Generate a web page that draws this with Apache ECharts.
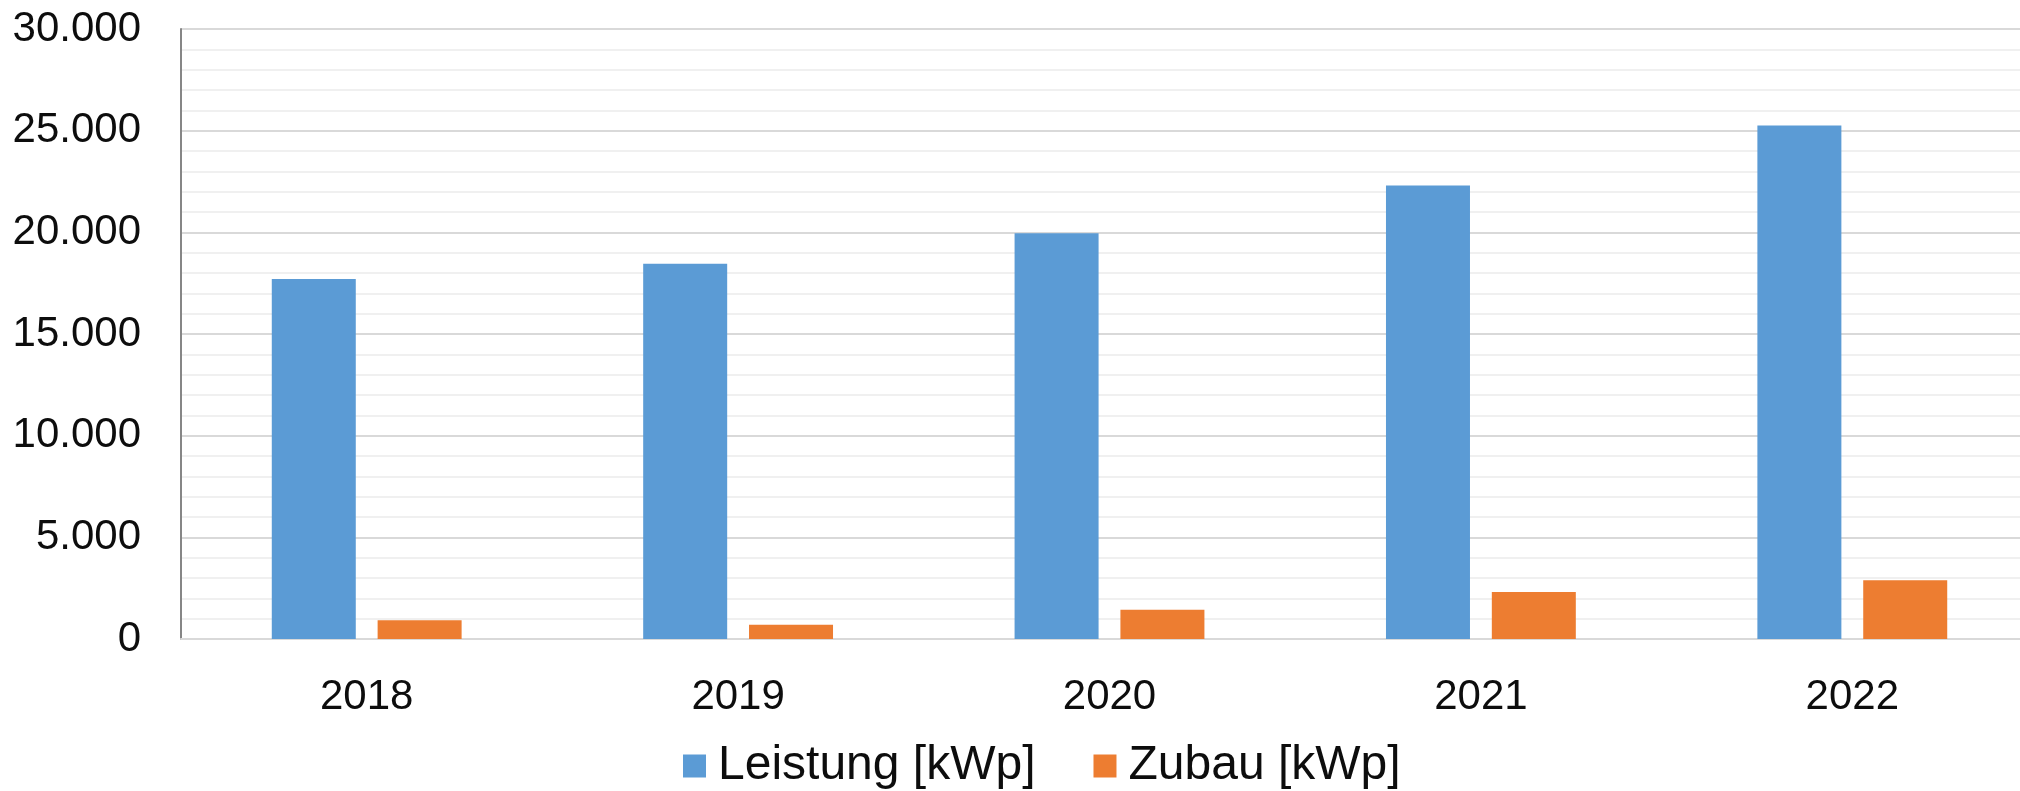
<!DOCTYPE html>
<html>
<head>
<meta charset="utf-8">
<script src="https://cdn.jsdelivr.net/npm/echarts@6/dist/echarts.min.js"></script>
<style>
html,body{margin:0;padding:0;background:#fff;}
#chart{width:2020px;height:791px;}
</style>
</head>
<body>
<div id="chart"></div>
<script>
const categories = ['2018', '2019', '2020', '2021', '2022'];
const leistung = [17700, 18450, 19950, 22300, 25250];
const zubau = [920, 700, 1440, 2310, 2890];
const seriesNames = ['Leistung [kWp]', 'Zubau [kWp]'];

const fmt = v => String(v).replace(/\B(?=(\d{3})+(?!\d))/g, '.');
const FONT = 'Liberation Sans, Arial, sans-serif';
const chart = echarts.init(document.getElementById('chart'));
chart.setOption({
  animation: false,
  textStyle: { fontFamily: FONT },
  grid: { left: 181, top: 29, width: 1857, bottom: 152, containLabel: false, outerBoundsMode: 'none' },
  legend: {
    data: seriesNames,
    left: 683, top: 742, padding: 0,
    itemWidth: 23, itemHeight: 23, itemGap: 58,
    icon: 'rect',
    textStyle: { fontSize: 48, color: '#0d0d0d', fontFamily: FONT, padding: [0, 0, 0, 7] }
  },
  xAxis: {
    type: 'category',
    data: categories,
    axisLine: { lineStyle: { color: '#d9d9d9', width: 2 } },
    axisTick: { show: false },
    axisLabel: { fontSize: 42, color: '#0d0d0d', margin: 37, fontFamily: FONT }
  },
  yAxis: {
    type: 'value',
    min: 0, max: 30000, interval: 5000,
    axisLine: { show: true, lineStyle: { color: '#868686', width: 2 } },
    axisTick: { show: false },
    axisLabel: { fontSize: 42, color: '#0d0d0d', margin: 40, formatter: fmt, fontFamily: FONT },
    splitLine: { lineStyle: { color: '#d9d9d9', width: 2 } },
    minorTick: { show: false, splitNumber: 5 },
    minorSplitLine: { show: true, lineStyle: { color: '#f0f0f0', width: 2 } }
  },
  series: [
    { name: seriesNames[0], type: 'bar', data: leistung, barWidth: 84, barGap: '26%',
      itemStyle: { color: '#5B9BD5' } },
    { name: seriesNames[1], type: 'bar', data: zubau, barWidth: 84,
      itemStyle: { color: '#ED7D31' } }
  ]
});
</script>
</body>
</html>
